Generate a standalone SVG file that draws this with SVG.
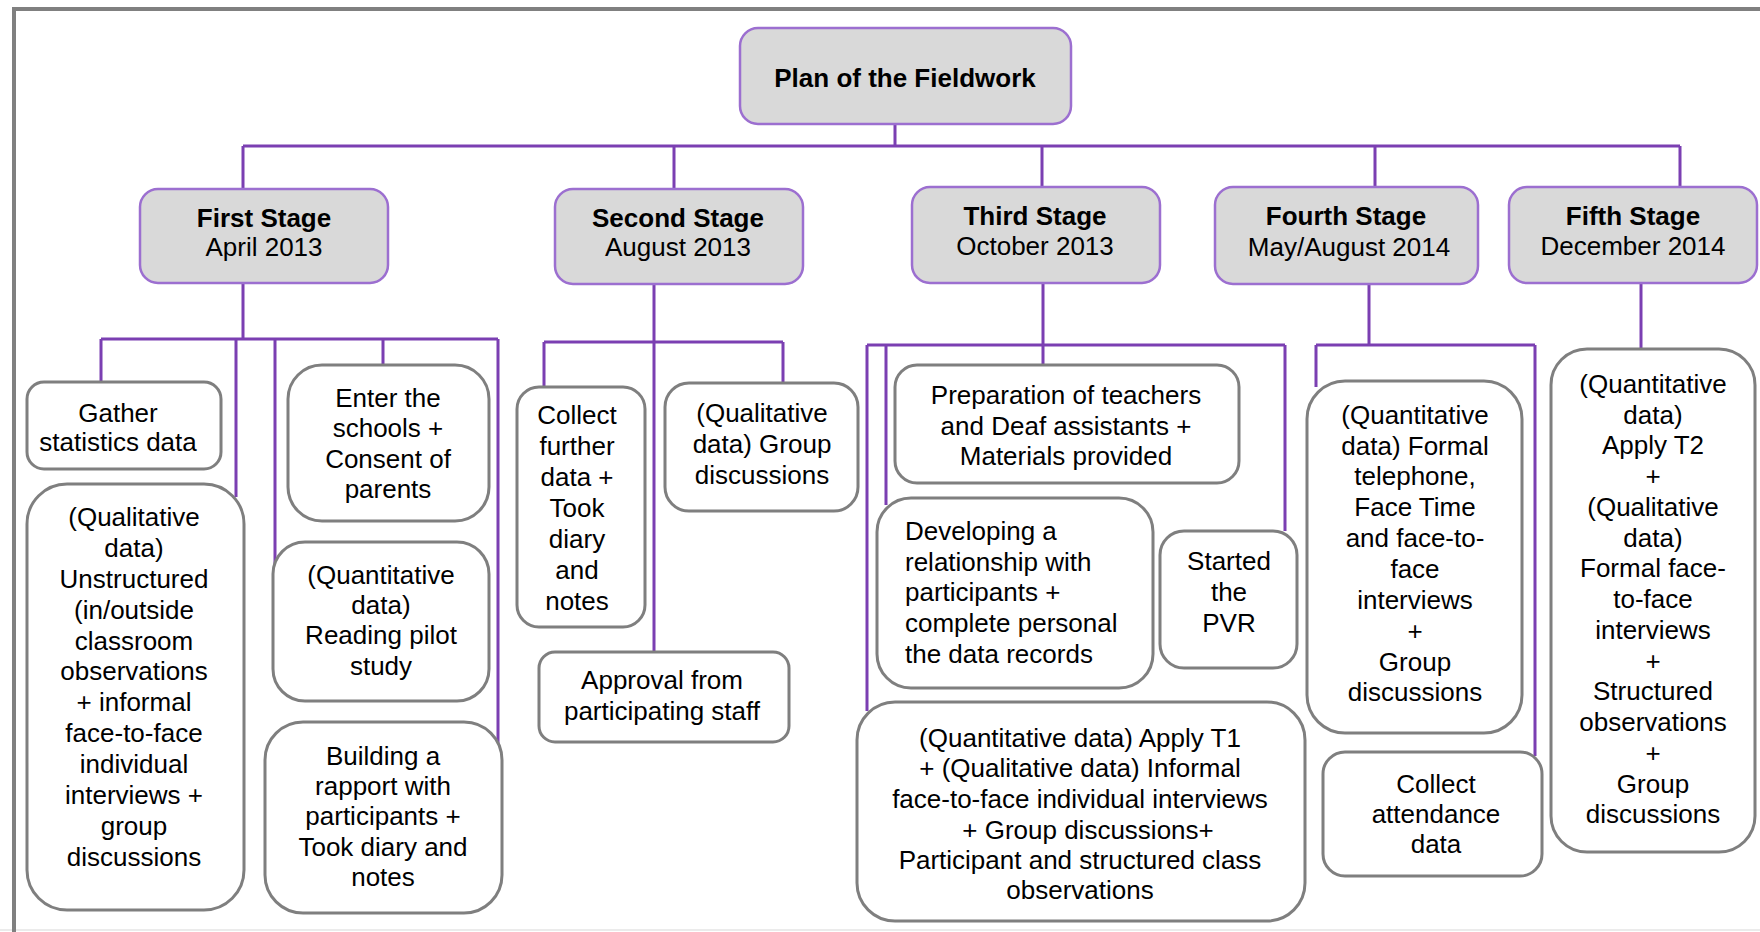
<svg xmlns="http://www.w3.org/2000/svg" width="1760" height="932" viewBox="0 0 1760 932">
<style>
text{font-family:"Liberation Sans",Arial,sans-serif;font-size:26px;fill:#000;text-anchor:middle}
.b{font-weight:bold}
.l{text-anchor:start}
.stage{fill:#d9d9d9;stroke:#9c6fd0;stroke-width:2.5}
.leaf{fill:#fff;stroke:#7f7f7f;stroke-width:3}
.con{fill:none;stroke:#7b3fb2;stroke-width:3}
</style>
<rect x="0" y="0" width="1760" height="932" fill="#fff"/>
<line x1="0" y1="930" x2="1760" y2="930" stroke="#e4e4e4" stroke-width="1.5"/>
<path d="M14 932 V9 H1760" fill="none" stroke="#808080" stroke-width="4"/>

<g id="connectors" class="con">
<path d="M895 124 V146 M243 146 H1680 M243 146 V189 M674 146 V189 M1042 146 V187 M1375 146 V187 M1680 146 V187"/>
<path d="M243 283 V339 M101 339 H498 M101 339 V383 M236 339 V497 M275 339 V566 M383 339 V366 M498 339 V818"/>
<path d="M654 283 V652 M544 342 H783 M544 342 V387 M783 342 V384"/>
<path d="M1043 283 V365 M867 345 H1285 M867 345 V711 M886 345 V505 M1285 345 V531"/>
<path d="M1369 284 V345 M1316 345 H1535 M1316 345 V387 M1535 345 V756"/>
<path d="M1641 283 V350"/>
</g>

<g id="root"><rect class="stage" x="740" y="28" width="331" height="96" rx="18"/><text class="b" x="905" y="87">Plan of the Fieldwork</text></g>

<g id="stage1"><rect class="stage" x="140" y="189" width="248" height="94" rx="18"/><text class="b" x="264" y="227">First Stage</text><text x="264" y="256">April 2013</text></g>
<g id="stage2"><rect class="stage" x="555" y="189" width="248" height="95" rx="18"/><text class="b" x="678" y="227">Second Stage</text><text x="678" y="256">August 2013</text></g>
<g id="stage3"><rect class="stage" x="912" y="187" width="248" height="96" rx="18"/><text class="b" x="1035" y="225">Third Stage</text><text x="1035" y="255">October 2013</text></g>
<g id="stage4"><rect class="stage" x="1215" y="187" width="263" height="97" rx="18"/><text class="b" x="1346" y="225">Fourth Stage</text><text x="1349" y="256">May/August 2014</text></g>
<g id="stage5"><rect class="stage" x="1509" y="187" width="248" height="96" rx="18"/><text class="b" x="1633" y="225">Fifth Stage</text><text x="1633" y="255">December 2014</text></g>

<g id="gather"><rect class="leaf" x="27" y="382" width="194" height="87" rx="17"/><text x="118" y="422">Gather</text><text x="118" y="451">statistics data</text></g>
<g id="qual1"><rect class="leaf" x="27" y="484" width="217" height="426" rx="40"/>
<text x="134"><tspan x="134" y="526">(Qualitative</tspan><tspan x="134" y="557">data)</tspan><tspan x="134" y="588">Unstructured</tspan><tspan x="134" y="619">(in/outside</tspan><tspan x="134" y="650">classroom</tspan><tspan x="134" y="680">observations</tspan><tspan x="134" y="711">+ informal</tspan><tspan x="134" y="742">face-to-face</tspan><tspan x="134" y="773">individual</tspan><tspan x="134" y="804">interviews +</tspan><tspan x="134" y="835">group</tspan><tspan x="134" y="866">discussions</tspan></text></g>
<g id="enter"><rect class="leaf" x="288" y="365" width="201" height="156" rx="34"/>
<text><tspan x="388" y="407">Enter the</tspan><tspan x="388" y="437">schools +</tspan><tspan x="388" y="468">Consent of</tspan><tspan x="388" y="498">parents</tspan></text></g>
<g id="quant1"><rect class="leaf" x="273" y="542" width="216" height="159" rx="32"/>
<text><tspan x="381" y="584">(Quantitative</tspan><tspan x="381" y="614">data)</tspan><tspan x="381" y="644">Reading pilot</tspan><tspan x="381" y="675">study</tspan></text></g>
<g id="building"><rect class="leaf" x="265" y="722" width="237" height="191" rx="38"/>
<text><tspan x="383" y="765">Building a</tspan><tspan x="383" y="795">rapport with</tspan><tspan x="383" y="825">participants +</tspan><tspan x="383" y="856">Took diary and</tspan><tspan x="383" y="886">notes</tspan></text></g>

<g id="collect"><rect class="leaf" x="517" y="387" width="128" height="240" rx="22"/>
<text><tspan x="577" y="424">Collect</tspan><tspan x="577" y="455">further</tspan><tspan x="577" y="486">data +</tspan><tspan x="577" y="517">Took</tspan><tspan x="577" y="548">diary</tspan><tspan x="577" y="579">and</tspan><tspan x="577" y="610">notes</tspan></text></g>
<g id="qualgroup"><rect class="leaf" x="665" y="383" width="193" height="128" rx="24"/>
<text><tspan x="762" y="422">(Qualitative</tspan><tspan x="762" y="453">data) Group</tspan><tspan x="762" y="484">discussions</tspan></text></g>
<g id="approval"><rect class="leaf" x="539" y="652" width="250" height="90" rx="16"/>
<text><tspan x="662" y="689">Approval from</tspan><tspan x="662" y="720">participating staff</tspan></text></g>

<g id="prep"><rect class="leaf" x="895" y="365" width="344" height="118" rx="22"/>
<text><tspan x="1066" y="404">Preparation of teachers</tspan><tspan x="1066" y="435">and Deaf assistants +</tspan><tspan x="1066" y="465">Materials provided</tspan></text></g>
<g id="developing"><rect class="leaf" x="877" y="498" width="276" height="190" rx="34"/>
<text class="l"><tspan x="905" y="540">Developing a</tspan><tspan x="905" y="571">relationship with</tspan><tspan x="905" y="601">participants +</tspan><tspan x="905" y="632">complete personal</tspan><tspan x="905" y="663">the data records</tspan></text></g>
<g id="pvr"><rect class="leaf" x="1160" y="531" width="137" height="137" rx="24"/>
<text><tspan x="1229" y="570">Started</tspan><tspan x="1229" y="601">the</tspan><tspan x="1229" y="632">PVR</tspan></text></g>
<g id="t1"><rect class="leaf" x="857" y="702" width="448" height="219" rx="38"/>
<text><tspan x="1080" y="747">(Quantitative data) Apply T1</tspan><tspan x="1080" y="777">+ (Qualitative data) Informal</tspan><tspan x="1080" y="808">face-to-face individual interviews</tspan><tspan x="1088" y="839">+ Group discussions+</tspan><tspan x="1080" y="869">Participant and structured class</tspan><tspan x="1080" y="899">observations</tspan></text></g>

<g id="formal"><rect class="leaf" x="1307" y="381" width="215" height="352" rx="38"/>
<text><tspan x="1415" y="424">(Quantitative</tspan><tspan x="1415" y="455">data) Formal</tspan><tspan x="1415" y="485">telephone,</tspan><tspan x="1415" y="516">Face Time</tspan><tspan x="1415" y="547">and face-to-</tspan><tspan x="1415" y="578">face</tspan><tspan x="1415" y="609">interviews</tspan><tspan x="1415" y="640">+</tspan><tspan x="1415" y="671">Group</tspan><tspan x="1415" y="701">discussions</tspan></text></g>
<g id="attendance"><rect class="leaf" x="1323" y="752" width="219" height="124" rx="22"/>
<text><tspan x="1436" y="793">Collect</tspan><tspan x="1436" y="823">attendance</tspan><tspan x="1436" y="853">data</tspan></text></g>

<g id="fifth"><rect class="leaf" x="1551" y="349" width="204" height="503" rx="36"/>
<text><tspan x="1653" y="393">(Quantitative</tspan><tspan x="1653" y="424">data)</tspan><tspan x="1653" y="454">Apply T2</tspan><tspan x="1653" y="485">+</tspan><tspan x="1653" y="516">(Qualitative</tspan><tspan x="1653" y="547">data)</tspan><tspan x="1653" y="577">Formal face-</tspan><tspan x="1653" y="608">to-face</tspan><tspan x="1653" y="639">interviews</tspan><tspan x="1653" y="670">+</tspan><tspan x="1653" y="700">Structured</tspan><tspan x="1653" y="731">observations</tspan><tspan x="1653" y="762">+</tspan><tspan x="1653" y="793">Group</tspan><tspan x="1653" y="823">discussions</tspan></text></g>
</svg>
